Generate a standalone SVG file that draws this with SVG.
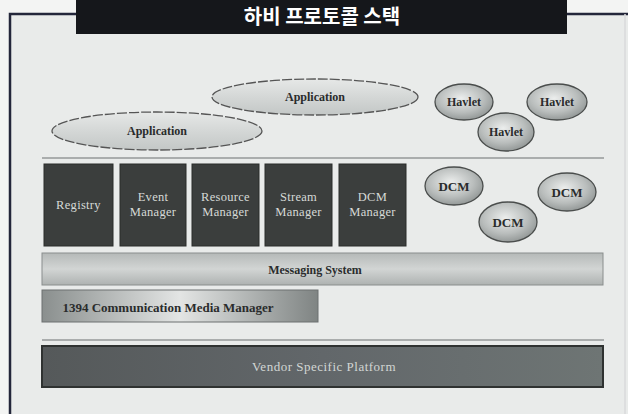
<svg xmlns="http://www.w3.org/2000/svg" width="628" height="414" viewBox="0 0 628 414">
<defs>
<linearGradient id="appG" x1="0" y1="0" x2="0" y2="1">
<stop offset="0" stop-color="#e6e8e7"/><stop offset="0.5" stop-color="#d4d7d6"/><stop offset="1" stop-color="#c3c7c6"/>
</linearGradient>
<radialGradient id="ovG" cx="0.45" cy="0.4" r="0.65">
<stop offset="0" stop-color="#eceeed"/><stop offset="0.6" stop-color="#b9bdbc"/><stop offset="1" stop-color="#8c9190"/>
</radialGradient>
<linearGradient id="msgG" x1="0" y1="0" x2="0" y2="1">
<stop offset="0" stop-color="#b5b9b8"/><stop offset="0.5" stop-color="#d2d5d4"/><stop offset="1" stop-color="#aeb2b1"/>
</linearGradient>
<linearGradient id="cmG" x1="0" y1="0" x2="1" y2="0">
<stop offset="0" stop-color="#8a8f8e"/><stop offset="0.5" stop-color="#e3e5e4"/><stop offset="1" stop-color="#7f8483"/>
</linearGradient>
<linearGradient id="vspG" x1="0" y1="0" x2="1" y2="0">
<stop offset="0" stop-color="#55595a"/><stop offset="0.5" stop-color="#62676a"/><stop offset="1" stop-color="#6e7574"/>
</linearGradient>
</defs>
<style>
.lbl{font-family:"Liberation Serif","Times New Roman",serif;font-weight:bold;font-size:12px;fill:#2a2c2c;text-anchor:middle;dominant-baseline:central}
.box{fill:#3b3e3d;stroke:#2a2c2b;stroke-width:1}
.boxt{font-family:"Liberation Serif","Times New Roman",serif;font-size:12.5px;fill:#d6dad7;text-anchor:middle;letter-spacing:0.3px}
.app{fill:url(#appG);stroke:#555;stroke-width:1.3;stroke-dasharray:10 2}
.ov{fill:url(#ovG);stroke:#4a4d4c;stroke-width:1.3}
.sep{stroke:#959998;stroke-width:1.5}
</style>
<rect width="628" height="414" fill="#f3f4f3"/>
<rect x="10" y="14" width="618" height="400" fill="#e9ebea"/>
<path d="M10 414 V14 H628" fill="none" stroke="#23263a" stroke-width="2.5"/>
<line x1="625" y1="14" x2="625" y2="414" stroke="#d8dadb" stroke-width="1.5"/>
<g id="title">
<rect x="76" y="0" width="491" height="34" fill="#15171b"/>
<text x="322" y="24" font-family="'Noto Sans CJK KR',sans-serif" font-weight="bold" font-size="20" fill="#ffffff" text-anchor="middle">하비 프로토콜 스택</text>
</g>
<g id="app1"><ellipse class="app" cx="315" cy="97" rx="103" ry="18"/><text class="lbl" x="315" y="97">Application</text></g>
<g id="app2"><ellipse class="app" cx="157" cy="131" rx="105" ry="19"/><text class="lbl" x="157" y="131">Application</text></g>
<g id="havlet1"><ellipse class="ov" cx="464" cy="102" rx="29" ry="18"/><text class="lbl" x="464" y="102">Havlet</text></g>
<g id="havlet2"><ellipse class="ov" cx="557" cy="102" rx="30" ry="18"/><text class="lbl" x="557" y="102">Havlet</text></g>
<g id="havlet3"><ellipse class="ov" cx="506" cy="132" rx="28" ry="19"/><text class="lbl" x="506" y="132">Havlet</text></g>
<line class="sep" x1="42" y1="158" x2="604" y2="158"/>
<g id="registry"><rect class="box" x="44" y="164" width="69" height="82"/><text class="boxt" x="78.5" y="209">Registry</text></g>
<g id="event"><rect class="box" x="120" y="164" width="66" height="82"/><text class="boxt" x="153" y="201">Event</text><text class="boxt" x="153" y="216">Manager</text></g>
<g id="resource"><rect class="box" x="192" y="164" width="67" height="82"/><text class="boxt" x="225.5" y="201">Resource</text><text class="boxt" x="225.5" y="216">Manager</text></g>
<g id="stream"><rect class="box" x="265" y="164" width="67" height="82"/><text class="boxt" x="298.5" y="201">Stream</text><text class="boxt" x="298.5" y="216">Manager</text></g>
<g id="dcmmgr"><rect class="box" x="339" y="164" width="67" height="82"/><text class="boxt" x="372.5" y="201">DCM</text><text class="boxt" x="372.5" y="216">Manager</text></g>
<g id="dcm1"><ellipse class="ov" cx="454" cy="186" rx="29" ry="19"/><text class="lbl" x="454" y="186" style="font-size:13px">DCM</text></g>
<g id="dcm2"><ellipse class="ov" cx="567" cy="192" rx="29" ry="19"/><text class="lbl" x="567" y="192" style="font-size:13px">DCM</text></g>
<g id="dcm3"><ellipse class="ov" cx="508" cy="222" rx="29" ry="20"/><text class="lbl" x="508" y="222" style="font-size:13px">DCM</text></g>
<g id="messaging"><rect x="42" y="253" width="561" height="32" fill="url(#msgG)" stroke="#8a8e8d" stroke-width="1"/><text class="lbl" x="315" y="270">Messaging System</text></g>
<g id="cmm"><rect x="42" y="290" width="276" height="32" fill="url(#cmG)" stroke="#6d7170" stroke-width="1"/><text class="lbl" x="168" y="307" style="font-size:13px">1394 Communication Media Manager</text></g>
<line class="sep" x1="42" y1="340" x2="604" y2="340"/>
<g id="vendor"><rect x="42" y="346" width="561" height="41" fill="url(#vspG)" stroke="#2f3231" stroke-width="2"/><text x="324" y="371" font-family="'Liberation Serif','Times New Roman',serif" font-size="13" fill="#d2d6d4" text-anchor="middle" letter-spacing="0.5">Vendor Specific Platform</text></g>
<g id="connectors"></g>
</svg>
